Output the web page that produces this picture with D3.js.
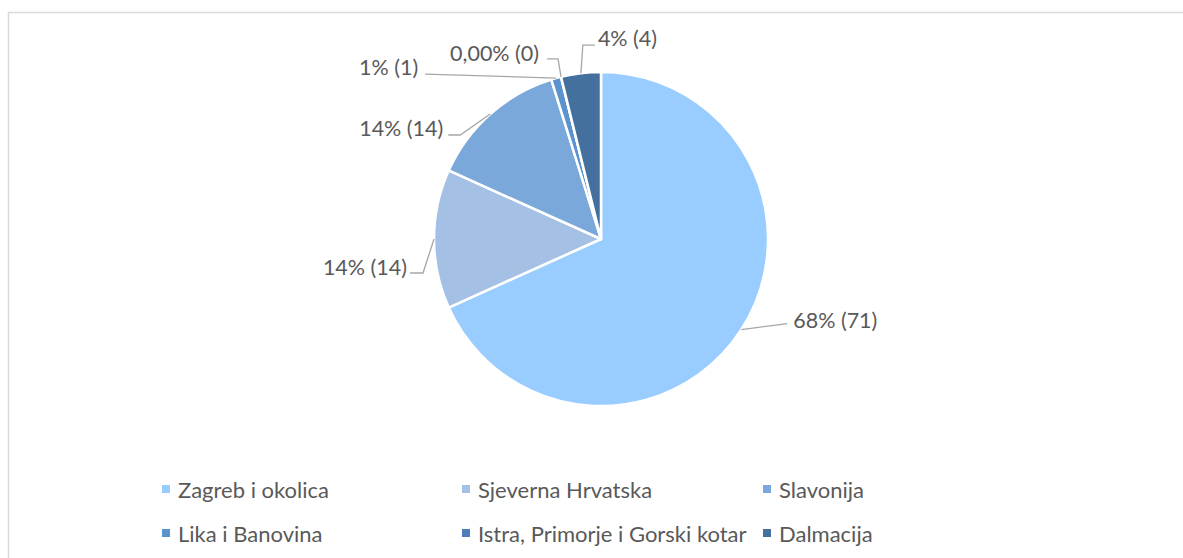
<!DOCTYPE html>
<html>
<head>
<meta charset="utf-8">
<script src="https://cdn.jsdelivr.net/npm/d3@7"></script>
<style>
  body { margin: 0; background: #fff; }
  text { font-family: Lato, "Open Sans", sans-serif; fill: #595959; }
</style>
</head>
<body>
<div id="chart-area"></div>
<script>
// podaci
var regions = ["Zagreb i okolica", "Sjeverna Hrvatska", "Slavonija",
               "Lika i Banovina", "Istra, Primorje i Gorski kotar", "Dalmacija"];
var counts = [71, 14, 14, 1, 0, 4];
var pctLabels = ["68%", "14%", "14%", "1%", "0,00%", "4%"];
var colors = ["#99CCFF", "#A4C0E4", "#7BA8DA", "#5A93CE", "#4C80BA", "#44709E"];

var width = 1183, height = 558;
var cx = 601, cy = 239, radius = 167;

var svg = d3.select("#chart-area")
    .append("svg")
    .attr("width", width)
    .attr("height", height);

// okvir grafikona
svg.append("rect")
    .attr("x", 8.5).attr("y", 12.5)
    .attr("width", width + 20).attr("height", height + 20)
    .attr("fill", "none")
    .attr("stroke", "#D9D9D9")
    .attr("stroke-width", 1.5);

var data = regions.map(function(r, i) {
    return { name: r, value: counts[i], pct: pctLabels[i], color: colors[i] };
});

var pie = d3.pie()
    .sort(null)
    .value(function(d) { return d.value; });

var arc = d3.arc().innerRadius(0).outerRadius(radius);
var edgeArc = d3.arc().innerRadius(radius).outerRadius(radius);

var g = svg.append("g")
    .attr("transform", "translate(" + cx + "," + cy + ")");

var arcs = pie(data);

g.selectAll("path.slice")
    .data(arcs)
    .enter().append("path")
    .attr("class", "slice")
    .attr("d", arc)
    .attr("fill", function(d) { return d.data.color; })
    .attr("stroke", "#fff")
    .attr("stroke-width", 2.5)
    .attr("stroke-linejoin", "round");

// raspored oznaka (pomaci od ruba kriske)
var labelLayout = [
    { elbow: [46, -6],  end: [46, -6],  anchor: "start", tx: 52, ty: -10 },
    { elbow: [-11, 34], end: [-24, 34], anchor: "end",   tx: -27, ty: 28 },
    { elbow: [-30, 21], end: [-42, 21], anchor: "end",   tx: -47, ty: 14 },
    { elbow: [-131, -4], end: [-131, -4], anchor: "end", tx: -138, ty: -11 },
    { elbow: [-3, -18], end: [-14, -18], anchor: "end",  tx: -22, ty: -24 },
    { elbow: [2, -28],  end: [14, -28],  anchor: "start", tx: 17, ty: -35 }
];

arcs.forEach(function(d, i) {
    var p = edgeArc.centroid(d);
    var L = labelLayout[i];
    var pts = [p, [p[0] + L.elbow[0], p[1] + L.elbow[1]], [p[0] + L.end[0], p[1] + L.end[1]]];
    g.append("polyline")
        .attr("points", pts.map(function(q) { return q.join(","); }).join(" "))
        .attr("fill", "none")
        .attr("stroke", "#A6A6A6")
        .attr("stroke-width", 1.3);
    g.append("text")
        .attr("x", p[0] + L.tx)
        .attr("y", p[1] + L.ty)
        .attr("text-anchor", L.anchor)
        .attr("dominant-baseline", "central")
        .style("font-size", "21.5px")
        .text(d.data.pct + " (" + d.data.value + ")");
});

// legenda
var legendCols = [162, 462, 763];
var legendRows = [489, 533];

var legend = svg.selectAll("g.legend")
    .data(data)
    .enter().append("g")
    .attr("class", "legend")
    .attr("transform", function(d, i) {
        return "translate(" + legendCols[i % 3] + "," + legendRows[Math.floor(i / 3)] + ")";
    });

legend.append("rect")
    .attr("x", 0).attr("y", -4)
    .attr("width", 8).attr("height", 8)
    .attr("fill", function(d) { return d.color; });

legend.append("text")
    .attr("x", 16)
    .attr("y", 0)
    .attr("dominant-baseline", "central")
    .style("font-size", "22px")
    .text(function(d) { return d.name; });
</script>
</body>
</html>
